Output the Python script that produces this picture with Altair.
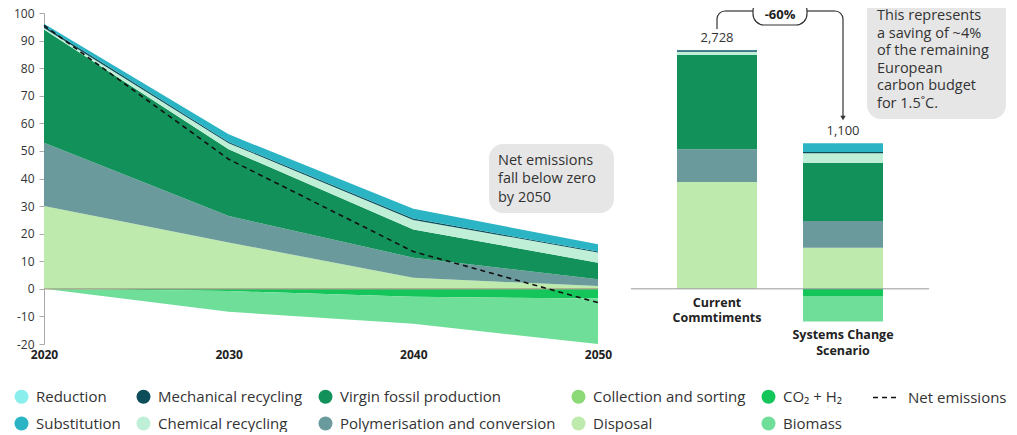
import altair as alt
import pandas as pd

FONT = "Open Sans"

# ---------------- data (left: annual emissions, stacked areas) ----------------
years = [2020, 2030, 2040, 2050]
reduction = [0.0, 0.0, 0.0, 0.0]
substitution = [0.8, 2.8, 3.5, 2.7]
mechanical_recycling = [0.7, 0.4, 0.5, 0.3]
chemical_recycling = [0.6, 2.2, 3.5, 3.7]
virgin_fossil = [41.0, 24.2, 10.2, 6.0]
polymerisation = [23.0, 9.6, 7.3, 2.5]
collection_sorting = [0.0, 0.0, 0.0, 0.0]
disposal = [30.0, 16.8, 4.0, 1.0]
co2_h2 = [0.0, -0.8, -2.9, -3.5]
biomass = [0.0, -7.5, -9.8, -16.5]
net_emissions = [95.5, 47.0, 13.5, -5.0]

# ---------------- data (right: cumulative emissions bars) ----------------
bar_categories = ["Current Commtiments", "Systems Change Scenario"]
bar_names = ["Current\nCommtiments", "Systems Change\nScenario"]
bar_totals = ["2,728", "1,100"]
bar_disposal = [1221, 468]
bar_polymerisation = [373, 308]
bar_virgin = [1076, 665]
bar_chemical = [38, 107]
bar_mechanical = [16, 15]
bar_substitution = [4, 99]
bar_co2_h2 = [0, -83]
bar_biomass = [0, -289]

# legend (column-major: 2 rows x 5 columns)
legend_order = [
    "Reduction", "Substitution",
    "Mechanical recycling", "Chemical recycling",
    "Virgin fossil production", "Polymerisation and conversion",
    "Collection and sorting", "Disposal",
    "CO₂ + H₂", "Biomass",
]
legend_colors = [
    "#8AEFEC", "#2BB4C4",
    "#0C4D59", "#BFF0D7",
    "#12925A", "#6B9A9C",
    "#8CD978", "#BEEAAE",
    "#14C65A", "#6EDE98",
]
positive_stack = ["Disposal", "Collection and sorting", "Polymerisation and conversion",
                  "Virgin fossil production", "Chemical recycling", "Mechanical recycling",
                  "Substitution", "Reduction"]
negative_stack = ["CO₂ + H₂", "Biomass"]

series_left = {
    "Reduction": reduction, "Substitution": substitution,
    "Mechanical recycling": mechanical_recycling, "Chemical recycling": chemical_recycling,
    "Virgin fossil production": virgin_fossil, "Polymerisation and conversion": polymerisation,
    "Collection and sorting": collection_sorting, "Disposal": disposal,
    "CO₂ + H₂": co2_h2, "Biomass": biomass,
}
series_bar = {
    "Disposal": bar_disposal, "Polymerisation and conversion": bar_polymerisation,
    "Virgin fossil production": bar_virgin, "Chemical recycling": bar_chemical,
    "Mechanical recycling": bar_mechanical, "Substitution": bar_substitution,
    "CO₂ + H₂": bar_co2_h2, "Biomass": bar_biomass,
}


def stack_table(series, keys, keyname):
    out = []
    for i, k in enumerate(keys):
        for group in (positive_stack, negative_stack):
            base = 0.0
            for cat in group:
                if cat not in series:
                    continue
                v = series[cat][i]
                out.append({keyname: k, "category": cat, "y0": base, "y1": base + v})
                base += v
    return pd.DataFrame(out)


df_area = stack_table(series_left, years, "year")
df_net = pd.DataFrame({"year": years, "net": net_emissions, "series": ["Net emissions"] * 4})
df_bar = stack_table(series_bar, bar_categories, "scenario")
df_meta = pd.DataFrame({
    "scenario": bar_categories, "name": bar_names, "total": bar_totals,
    "top": [float(df_bar[df_bar.scenario == b].y1.max()) for b in bar_categories],
    "bottom": [float(min(0.0, df_bar[df_bar.scenario == b].y1.min())) for b in bar_categories],
})
one = pd.DataFrame({"k": [0]})
zero = pd.DataFrame({"zero": [0.0]})

color_enc = alt.Color(
    "category:N",
    scale=alt.Scale(domain=legend_order, range=legend_colors),
    legend=alt.Legend(
        orient="none", legendX=-30, legendY=376, columns=5, title=None,
        symbolType="circle", symbolSize=196, symbolStrokeWidth=0,
        labelFontSize=15, labelFont=FONT, labelColor="#333", labelLimit=300,
        columnPadding=15, rowPadding=11, labelOffset=7, padding=0,
    ),
)

# ---------------- left panel ----------------
x_left = alt.X(
    "year:Q", scale=alt.Scale(domain=[2020, 2050], nice=False),
    axis=alt.Axis(values=years, format="d", title=None, domain=False, ticks=False,
                  grid=False, labelFontWeight="bold", labelFontSize=12, labelFont=FONT,
                  labelColor="#222", labelPadding=5, labelFlush=False),
)
y_left_scale = alt.Scale(domain=[-20, 100], nice=False)
y_left_axis = alt.Axis(values=list(range(-20, 101, 10)), title=None, grid=False,
                       tickSize=5, labelPadding=5, domainColor="#aaa", tickColor="#aaa",
                       labelFontSize=12, labelFont=FONT, labelColor="#333",
                       labelExpr="datum.value + ''")

areas = alt.Chart(df_area).mark_area(interpolate="linear").encode(
    x=x_left,
    y=alt.Y("y0:Q", scale=y_left_scale, axis=y_left_axis),
    y2="y1:Q",
    color=color_enc,
    detail="category:N",
)
zero_left = alt.Chart(zero).mark_rule(color="#a9a489", strokeWidth=1.2).encode(
    y=alt.Y("zero:Q", scale=y_left_scale, axis=y_left_axis))
net_line = alt.Chart(df_net).mark_line(color="#111", strokeWidth=1.6).encode(
    x=x_left,
    y=alt.Y("net:Q", scale=y_left_scale, axis=y_left_axis),
    strokeDash=alt.StrokeDash(
        "series:N", scale=alt.Scale(domain=["Net emissions"], range=[[5, 4]]),
        legend=alt.Legend(orient="none", legendX=828, legendY=370, title=None,
                          symbolType="stroke", symbolSize=729, symbolStrokeColor="#111",
                          symbolStrokeWidth=1.5, labelFontSize=15, labelFont=FONT,
                          labelColor="#333", labelOffset=7, padding=0),
    ),
)
note_box = alt.Chart(one).mark_rect(fill="#e6e6e6", cornerRadius=14).encode(
    x=alt.value(445), x2=alt.value(570), y=alt.value(131), y2=alt.value(200))
note_text = alt.Chart(one).mark_text(
    align="left", baseline="top", font=FONT, fontSize=14.5, lineHeight=18.3, color="#333",
    text=["Net emissions", "fall below zero", "by 2050"]
).encode(x=alt.value(454), y=alt.value(141))

left = alt.layer(areas, zero_left, net_line, note_box, note_text).properties(width=554, height=331)

# ---------------- right panel ----------------
x_right = alt.X("scenario:N", sort=bar_categories, axis=None,
                scale=alt.Scale(paddingInner=0.365, paddingOuter=0.365))
y_right_scale = alt.Scale(domain=[-630, 3150], nice=False)

bars = alt.Chart(df_bar).mark_bar().encode(
    x=x_right,
    y=alt.Y("y0:Q", scale=y_right_scale, axis=None),
    y2="y1:Q",
    color=color_enc,
)
zero_right = alt.Chart(zero).mark_rule(color="#999", strokeWidth=1).encode(
    y=alt.Y("zero:Q", scale=y_right_scale, axis=None))
total_labels = alt.Chart(df_meta).mark_text(
    baseline="bottom", dy=-5, font=FONT, fontSize=13, color="#333"
).encode(x=x_right, y=alt.Y("top:Q", scale=y_right_scale, axis=None), text="total:N")
name_labels = alt.Chart(df_meta).mark_text(
    baseline="top", dy=8, font=FONT, fontSize=12.5, fontWeight="bold", color="#222",
    lineBreak="\n", lineHeight=15.5
).encode(x=x_right, y=alt.Y("bottom:Q", scale=y_right_scale, axis=None), text="name:N")

ink = "#333"
conn1 = alt.Chart(one).mark_rule(color=ink, strokeWidth=1.2).encode(
    x=alt.value(86), y=alt.value(6), y2=alt.value(16))
conn2 = alt.Chart(one).mark_rule(color=ink, strokeWidth=1.2).encode(
    x=alt.value(94), x2=alt.value(122), y=alt.value(-2))
conn3 = alt.Chart(one).mark_rule(color=ink, strokeWidth=1.2).encode(
    x=alt.value(176), x2=alt.value(204), y=alt.value(-2))
conn4 = alt.Chart(one).mark_rule(color=ink, strokeWidth=1.2).encode(
    x=alt.value(212), y=alt.value(6), y2=alt.value(103))
corner1 = alt.Chart(one).mark_arc(radius=8, radius2=8, theta=4.712389, theta2=6.283185,
                                  stroke=ink, strokeWidth=1.2, fillOpacity=0).encode(
    x=alt.value(94), y=alt.value(6))
corner2 = alt.Chart(one).mark_arc(radius=8, radius2=8, theta=0, theta2=1.570796,
                                  stroke=ink, strokeWidth=1.2, fillOpacity=0).encode(
    x=alt.value(204), y=alt.value(6))
arrow = alt.Chart(one).mark_point(shape="triangle-down", size=30, filled=True,
                                  color=ink, opacity=1).encode(
    x=alt.value(212), y=alt.value(105))
pct_box = alt.Chart(one).mark_rect(fill="white", stroke=ink, strokeWidth=1.2,
                                   cornerRadius=11).encode(
    x=alt.value(122), x2=alt.value(176), y=alt.value(-13), y2=alt.value(12))
pct_text = alt.Chart(one).mark_text(font=FONT, fontSize=13, fontWeight="bold",
                                    color="#222", baseline="middle", text="-60%").encode(
    x=alt.value(149), y=alt.value(2))
info_box = alt.Chart(one).mark_rect(fill="#e6e6e6", cornerRadius=14).encode(
    x=alt.value(236), x2=alt.value(375), y=alt.value(-30), y2=alt.value(106))
info_text = alt.Chart(one).mark_text(
    align="left", baseline="top", font=FONT, fontSize=14.5, lineHeight=17.5, color="#333",
    text=["This represents", "a saving of ~4%", "of the remaining",
          "European", "carbon budget", "for 1.5˚C."]
).encode(x=alt.value(246), y=alt.value(-4))

right = alt.layer(bars, zero_right, total_labels, name_labels,
                  conn1, conn2, conn3, conn4, corner1, corner2, arrow,
                  pct_box, pct_text, info_box, info_text).properties(width=298, height=331)

chart = alt.hconcat(left, right, spacing=33, bounds="flush").resolve_scale(
    color="shared"
).configure_view(stroke=None).properties(
    padding={"left": 5, "top": -25, "right": 0, "bottom": 0}
)

chart.save("out.html", embed_options={"renderer": "svg", "actions": False})
